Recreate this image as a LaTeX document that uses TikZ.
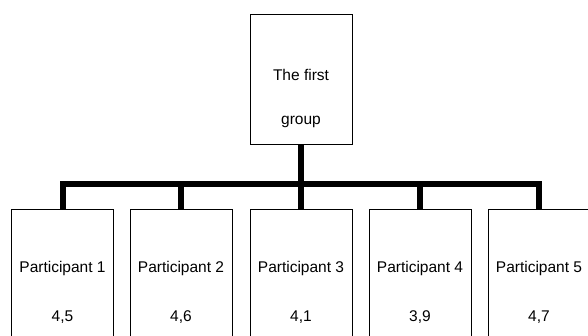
\documentclass[tikz,border=0pt]{standalone}
\usepackage{fontspec}
\setmainfont{Liberation Sans}
\usetikzlibrary{backgrounds}
\begin{document}
\begin{tikzpicture}[x=1pt,y=-1pt,
  box/.style={draw=black,line width=1pt,fill=white,minimum width=102pt,inner sep=0pt},
  topbox/.style={box,minimum height=130pt},
  childbox/.style={box,minimum height=140pt},
  lbl/.style={font=\fontsize{15.5}{18}\selectfont,inner sep=0pt,anchor=center},
  conn/.style={line width=6pt,line join=miter}]
\useasboundingbox (0,0) rectangle (588,335);
\coordinate (bar) at (301,183.5);
\node[topbox] (top) at (301,79) {};
\node[childbox] (c1) at (62.5,279) {};
\node[childbox] (c2) at (181,279) {};
\node[childbox] (c3) at (301,279) {};
\node[childbox] (c4) at (420,279) {};
\node[childbox] (c5) at (539,279) {};
\begin{scope}[on background layer]
\draw[conn] (top.south) -- (c3.north);
\draw[conn] (c1.north) -- (c1.north |- bar) -| (c5.north);
\draw[conn] (c2.north) -- (c2.north |- bar);
\draw[conn] (c4.north) -- (c4.north |- bar);
\end{scope}
\node[lbl] (t1) at (301,75) {The first};
\node[lbl] (t2) at (301,122) {group};
\node[lbl] (p1) at (62.5,268) {Participant 1};
\node[lbl] (v1) at (62.5,317) {4,5};
\node[lbl] (p2) at (181,268) {Participant 2};
\node[lbl] (v2) at (181,317) {4,6};
\node[lbl] (p3) at (301,268) {Participant 3};
\node[lbl] (v3) at (301,317) {4,1};
\node[lbl] (p4) at (420,268) {Participant 4};
\node[lbl] (v4) at (420,317) {3,9};
\node[lbl] (p5) at (539,268) {Participant 5};
\node[lbl] (v5) at (539,317) {4,7};
\end{tikzpicture}
\end{document}
